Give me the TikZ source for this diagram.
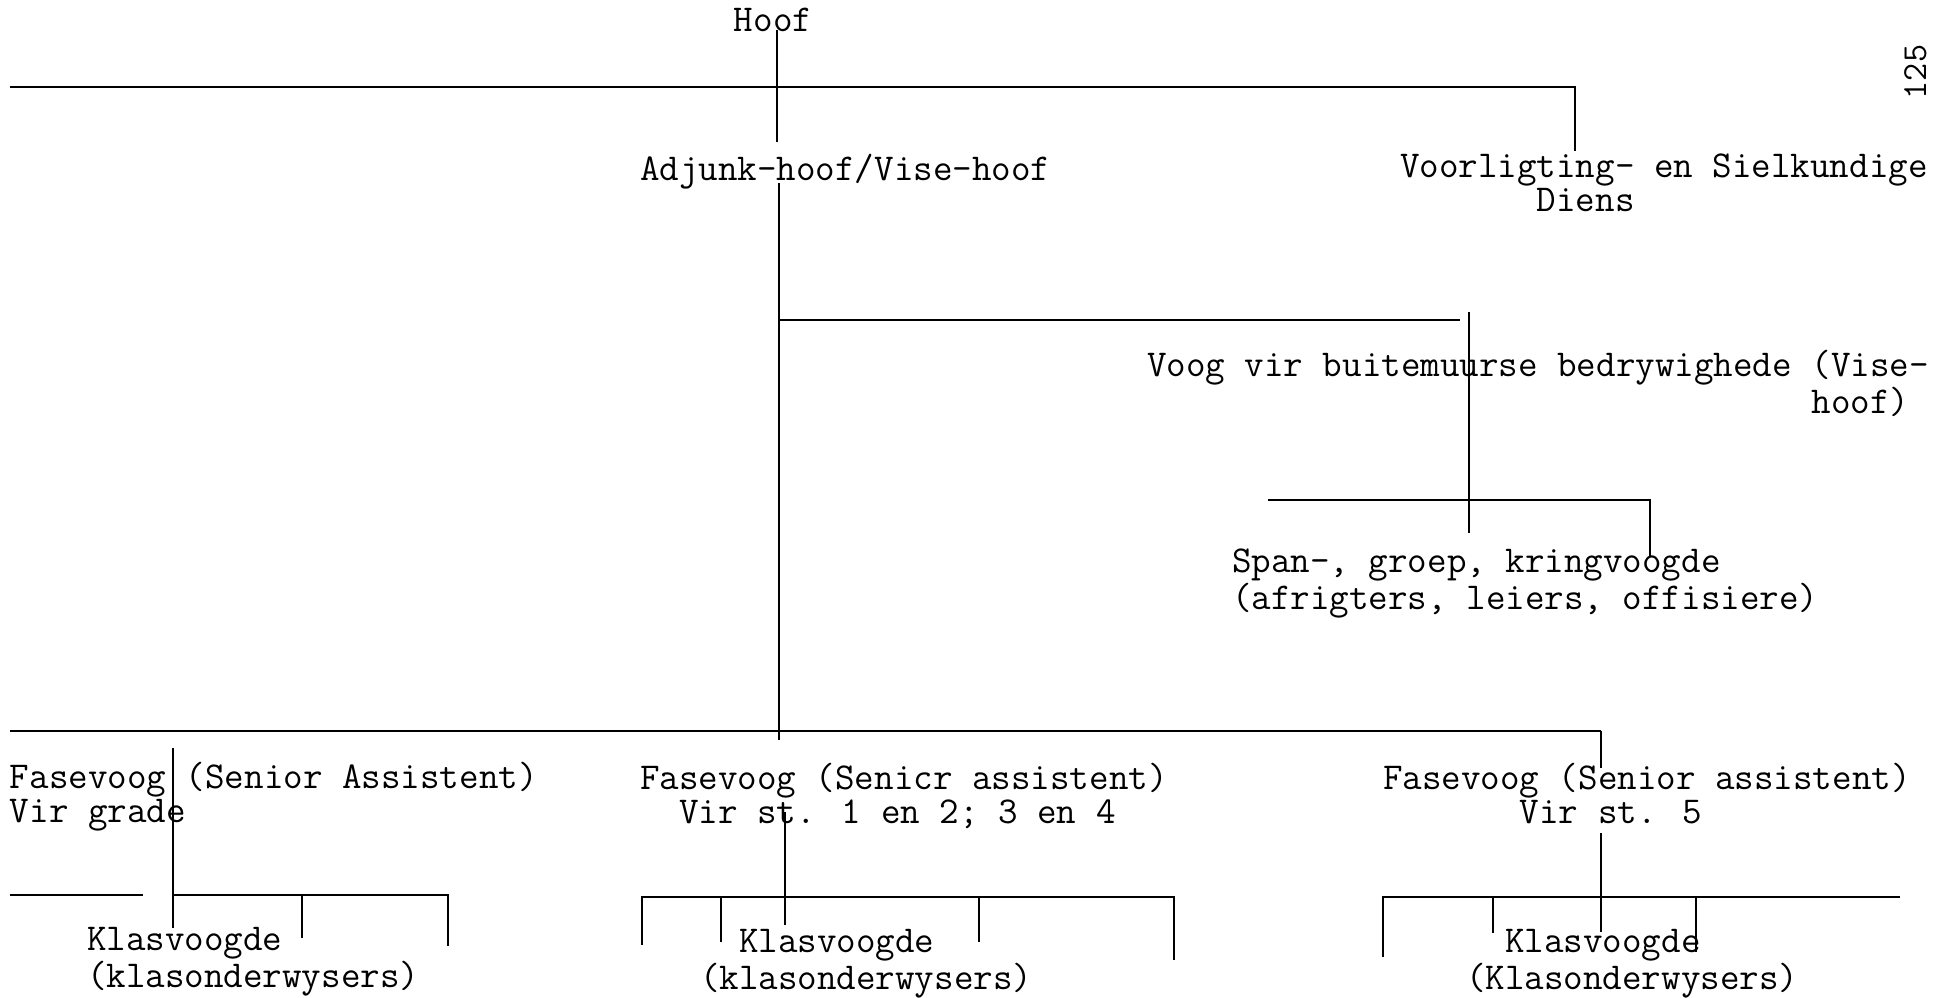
\documentclass[tikz,border=0pt]{standalone}
\usepackage{fontspec}
\usepackage{tikz}
\usetikzlibrary{positioning}
\tikzset{
  orgline/.style={black, line width=1.6pt},
  typed/.style={inner sep=0pt, outer sep=0pt, align=left, anchor=base west,
    font=\ttfamily\fontsize{21.6}{19}\selectfont},
  pagenum/.style={inner sep=0pt, rotate=90, anchor=base,
    font=\ttfamily\fontsize{20}{19}\selectfont}
}
\begin{document}
\begin{tikzpicture}[x=0.02cm, y=-0.02cm]
  \useasboundingbox (0,0) rectangle (1936,997);
  % posts (two-line nodes sit on the baseline of their last line)
  \node[typed, anchor=base] (hoof) at (773,32) {Hoof};
  \node[typed] (adjunk) at (640,180) {Adjunk-hoof/Vise-hoof};
  \node[typed] (voorligting) at (1400,211) {Voorligting- en Sielkundige\\\hphantom{Voorlig}Diens};
  \node[typed, align=right] (buitemuurs) at (1147,413) {Voog vir buitemuurse bedrywighede (Vise-\\hoof)\hphantom{x}};
  \node[typed] (span) at (1232,609) {Span-, groep, kringvoogde\\(afrigters, leiers, offisiere)};
  \node[typed] (fasegrade) at (10,822) {Fasevoog (Senior Assistent)\\Vir grade};
  \node[typed] (fasest) at (640,823) {Fasevoog (Senicr assistent)\\\hphantom{Fa}Vir st. 1 en 2; 3 en 4};
  \node[typed] (fasevyf) at (1383,823) {Fasevoog (Senior assistent)\\\hphantom{Fasevoo}Vir st. 5};
  \node[typed] (klasgrade) at (87,987) {Klasvoogde\\(klasonderwysers)};
  \node[typed] (klasst) at (700,989) {\hphantom{(k}Klasvoogde\\(klasonderwysers)};
  \node[typed] (klasvyf) at (1466,989) {\hphantom{(K}Klasvoogde\\(Klasonderwysers)};
  \node[pagenum] (bladsy) at (1926,72) {125};
  % junctions
  \coordinate (hooftop) at (777,30);
  \coordinate (adjunkup) at (777,142);
  \coordinate (adjunkdown) at (779,183);
  \coordinate (fasebarmid) at (779,740);
  \coordinate (bar1w) at (10,87);
  \coordinate (bar1e) at (1575,87);
  \coordinate (voorligtingup) at (1575,151);
  \coordinate (buitebarw) at (779,320);
  \coordinate (buitebare) at (1460,320);
  \coordinate (buitetop) at (1469,312);
  \coordinate (buitedown) at (1469,533);
  \coordinate (spanbarw) at (1268,500);
  \coordinate (spanbare) at (1650,500);
  \coordinate (spanup) at (1650,557);
  \coordinate (bar2w) at (10,731);
  \coordinate (bar2e) at (1601,731);
  \coordinate (fasevyfup) at (1601,768);
  % top
  \draw[orgline] (hooftop) -- (adjunkup);
  \draw[orgline] (bar1w) -- (bar1e) -- (voorligtingup);
  \draw[orgline] (adjunkdown) -- (fasebarmid);
  \draw[orgline] (buitebarw) -- (buitebare);
  \draw[orgline] (buitetop) -- (buitedown);
  \draw[orgline] (spanbarw) -- (spanbare) -- (spanup);
  \draw[orgline] (bar2w) -- (bar2e);
  \draw[orgline] (bar2e) -- (fasevyfup);
  % grade
  \draw[orgline] (173,748) -- (173,928);
  \draw[orgline] (10,895) -- (143,895);
  \draw[orgline] (173,895) -- (448,895) -- (448,946);
  \draw[orgline] (302,895) -- (302,938);
  % st. 1 - 4
  \draw[orgline] (785,812) -- (785,925);
  \draw[orgline] (642,945) -- (642,897) -- (1174,897) -- (1174,960);
  \foreach \x/\y in {721/942, 979/942}
    \draw[orgline] (\x,897) -- (\x,\y);
  % st. 5
  \draw[orgline] (1601,833) -- (1601,932);
  \draw[orgline] (1383,957) -- (1383,897) -- (1900,897);
  \foreach \x/\y in {1493/933, 1696/952}
    \draw[orgline] (\x,897) -- (\x,\y);
\end{tikzpicture}
\end{document}
